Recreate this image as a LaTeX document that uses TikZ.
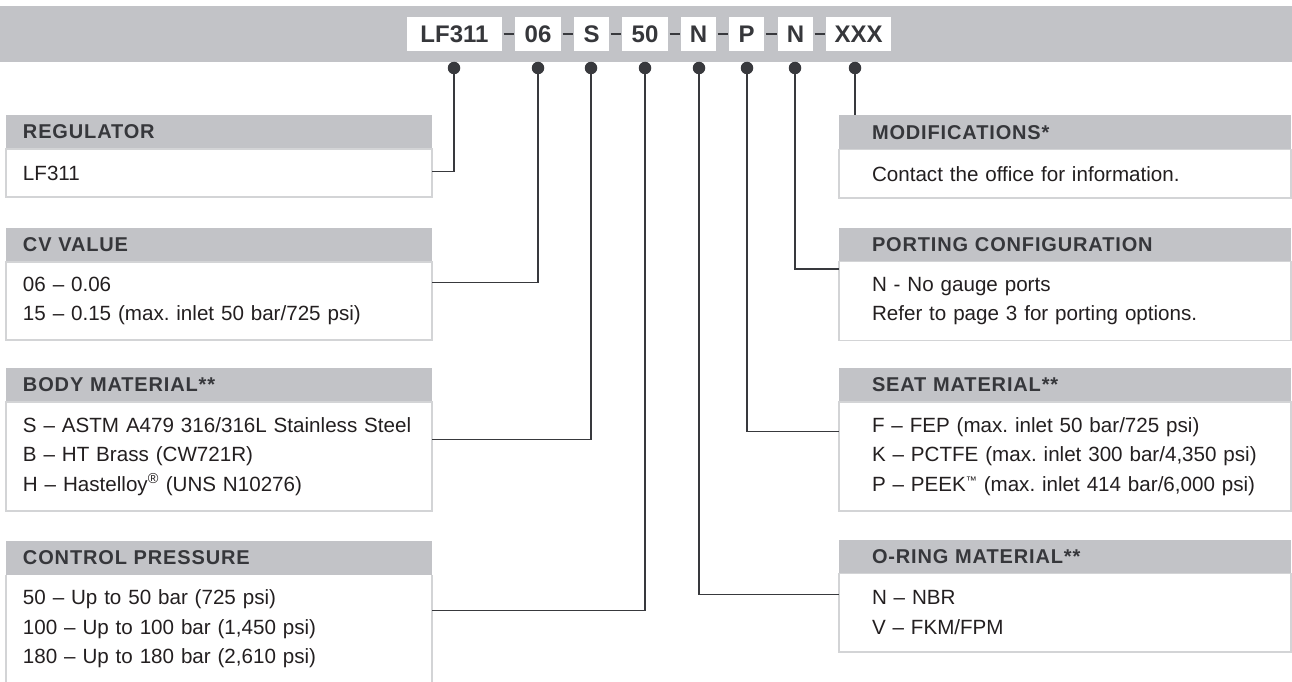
\documentclass[tikz,border=0pt]{standalone}
\usepackage{fontspec}
\setmainfont{Liberation Sans}
\newfontfamily\headfont[LetterSpace=4.3]{Liberation Sans}
\usetikzlibrary{positioning}
\frenchspacing
\definecolor{bandgray}{HTML}{C2C3C7}
\definecolor{wiregray}{HTML}{38393D}
\definecolor{framegray}{HTML}{D3D4D6}
\definecolor{inkgray}{HTML}{231F20}
\definecolor{headink}{HTML}{36373B}
\tikzset{code box/.style={fill=white,minimum height=34,inner sep=0pt,outer sep=0pt,text=headink,font=\bfseries\fontsize{24}{24}\selectfont}}
\tikzset{code dash/.style={draw=wiregray,line width=2.4,shorten >=1.5,shorten <=1.5}}
\tikzset{pin dot/.style={circle,fill=wiregray,minimum size=12.5,inner sep=0pt}}
\tikzset{wire/.style={draw=wiregray,line width=1.5}}
\tikzset{head/.style={fill=bandgray,minimum height=34,inner ysep=0pt,outer sep=0pt,align=left,text=headink,font=\headfont\bfseries\fontsize{20}{20}\selectfont}}
\tikzset{body/.style={draw=framegray,line width=1.5,fill=white,inner ysep=0pt,outer sep=0pt,align=left,text=inkgray,font=\fontsize{20.6}{29.5}\selectfont}}
\tikzset{left col/.style={anchor=north west,text width=392,inner xsep=17}}
\tikzset{right col/.style={anchor=north west,text width=386,inner xsep=33}}
\newcommand{\tmsign}{\raisebox{7pt}{\fontsize{11}{11}\selectfont ™}}

\begin{document}
\begin{tikzpicture}[x=1pt, y=-1pt, node distance=0pt]
    \useasboundingbox (0,0) rectangle (1292,682);
    \fill[bandgray] (0,6) rectangle (1292,62);

    % part number
    \node[code box, minimum width=95] at (454.5, 34) (c1){LF311};
    \node[code box, minimum width=46] at (538, 34) (c2){06};
    \node[code box, minimum width=35] at (591.5, 34) (c3){S};
    \node[code box, minimum width=46] at (645, 34) (c4){50};
    \node[code box, minimum width=35] at (698.5, 34) (c5){N};
    \node[code box, minimum width=35] at (746.5, 34) (c6){P};
    \node[code box, minimum width=35] at (795.5, 34) (c7){N};
    \node[code box, minimum width=65] at (858.5, 34) (c8){XXX};
    \foreach \a/\b in {c1/c2, c2/c3, c3/c4, c4/c5, c5/c6, c6/c7, c7/c8}
        \path[code dash] (\a.east) -- (\b.west);

    \node[pin dot] at (454, 68) (d1){};
    \node[pin dot] at (538, 68) (d2){};
    \node[pin dot] at (591, 68) (d3){};
    \node[pin dot] at (645, 68) (d4){};
    \node[pin dot] at (699, 68) (d5){};
    \node[pin dot] at (747, 68) (d6){};
    \node[pin dot] at (795, 68) (d7){};
    \node[pin dot] at (855, 68) (d8){};

    % left column
    \node[head, left col] at (6, 115) (regh){REGULATOR};
    \node[body, left col, minimum height=48, below=of regh] (regb){LF311};

    \node[head, left col] at (6, 228) (cvh){CV VALUE};
    \node[body, left col, minimum height=78, below=of cvh] (cvb){06 – 0.06\\15 – 0.15 (max. inlet 50 bar/725 psi)};

    \node[head, left col] at (6, 368) (bodyh){BODY MATERIAL**};
    \node[body, left col, minimum height=109, below=of bodyh] (bodyb){\mbox{S – ASTM A479 316/316L Stainless Steel}\\B – HT Brass (CW721R)\\H – Hastelloy\textsuperscript{®} (UNS N10276)};

    \node[head, left col] at (6, 541) (ctrlh){CONTROL PRESSURE};
    \node[body, left col, draw=none, minimum height=108, below=of ctrlh] (ctrlb){50 – Up to 50 bar (725 psi)\\100 – Up to 100 bar (1,450 psi)\\180 – Up to 180 bar (2,610 psi)};
    \draw[framegray, line width=1.5] (ctrlb.south west) -- (ctrlb.north west) (ctrlb.north east) -- (ctrlb.south east);

    % right column
    \node[head, right col] at (839, 115.5) (modh){MODIFICATIONS*};
    \node[body, right col, minimum height=48.5, below=of modh] (modb){Contact the office for information.};

    \node[head, right col] at (839, 227.5) (porth){PORTING CONFIGURATION};
    \node[body, right col, minimum height=79, below=of porth] (portb){N - No gauge ports\\Refer to page 3 for porting options.};

    \node[head, right col] at (839, 368) (seath){SEAT MATERIAL**};
    \node[body, right col, minimum height=109, below=of seath] (seatb){F – FEP (max. inlet 50 bar/725 psi)\\\mbox{K – PCTFE (max. inlet 300 bar/4,350 psi)}\\\mbox{P – PEEK\tmsign{} (max. inlet 414 bar/6,000 psi)}};

    \node[head, right col] at (839, 539.5) (oringh){O-RING MATERIAL**};
    \node[body, right col, minimum height=78.5, below=of oringh] (oringb){N – NBR\\V – FKM/FPM};

    % connectors
    \path[wire] (d1) |- (regb.east |- 0,171.7);
    \path[wire] (d2) |- (cvb.east |- 0,282.7);
    \path[wire] (d3) |- (bodyb.east |- 0,439.3);
    \path[wire] (d4) |- (ctrlb.east |- 0,610.7);
    \path[wire] (d5) |- (oringb.west |- 0,594.3);
    \path[wire] (d6) |- (seatb.west |- 0,431.7);
    \path[wire] (d7) |- (portb.west |- 0,269);
    \path[wire] (d8) -- (modh.north -| d8);
\end{tikzpicture}
\end{document}
